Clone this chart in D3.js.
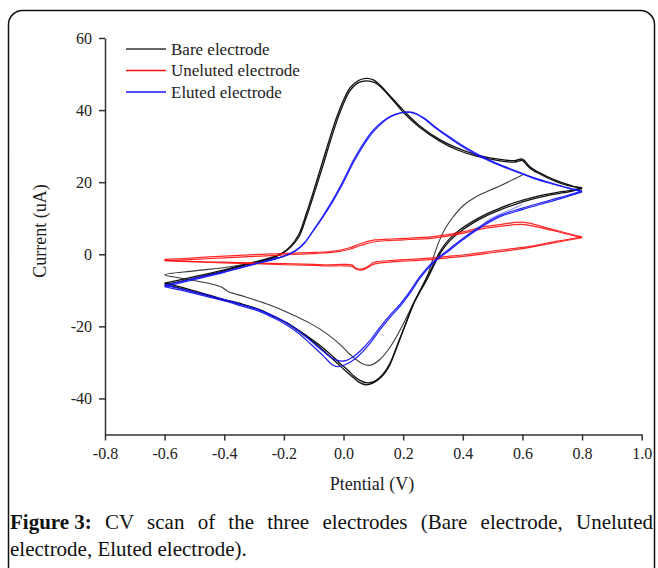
<!DOCTYPE html>
<html>
<head>
<meta charset="utf-8">
<script src="https://d3js.org/d3.v7.min.js"></script>
<style>
  html, body { margin: 0; padding: 0; background: #fff; }
  #wrap { position: relative; width: 658px; height: 568px; overflow: hidden; }
  svg { position: absolute; left: 0; top: 0; }
  .caption {
    position: absolute; left: 10px; top: 509px; width: 643px;
    font-family: "Liberation Serif", serif; font-size: 21px; line-height: 27px;
    color: #111; white-space: nowrap;
  }
  .caption .l1 { text-align: justify; text-align-last: justify; }
  .caption b { display: inline-block; }
  .axis text { font-family: "Liberation Serif", serif; font-size: 16px; fill: #222; }
  .axis path, .axis line { stroke: #333; stroke-width: 1.5px; }
</style>
</head>
<body>
<div id="wrap">
  <svg width="658" height="568"></svg>
  <div class="caption">
    <div class="l1"><b>Figure 3:</b> CV scan of the three electrodes (Bare electrode, Uneluted</div>
    <div>electrode, Eluted electrode).</div>
  </div>
</div>
<script>
// ticks
const xTicks = [-0.8, -0.6, -0.4, -0.2, 0.0, 0.2, 0.4, 0.6, 0.8, 1.0];
const xMinor = [-0.7, -0.5, -0.3, -0.1, 0.1, 0.3, 0.5, 0.7, 0.9];
const yTicks = [-40, -20, 0, 20, 40, 60];
const yMinor = [-30, -10, 10, 30, 50];

const seriesNames = ["Bare electrode", "Uneluted electrode", "Eluted electrode"];

// Bare electrode: first half scan (thin) + two full cycles [E (V), I (uA)]
const bareThin = [[0.6, 22.0], [0.52, 18.8], [0.446, 16.0], [0.40, 13.4], [0.368, 10.4], [0.34, 7.0], [0.32, 3.5], [0.30, -1.2], [0.283, -5.5], [0.258, -9.8], [0.233, -13.8], [0.205, -18.6], [0.178, -22.8], [0.15, -26.5], [0.122, -29.2], [0.09, -30.8], [0.06, -30.2], [0.022, -27.8], [-0.012, -25.0], [-0.06, -21.8], [-0.113, -19.1], [-0.18, -16.4], [-0.247, -14.1], [-0.33, -11.8], [-0.385, -10.4], [-0.41, -9.1], [-0.44, -8.3], [-0.481, -7.6], [-0.54, -6.7], [-0.6, -5.7], [-0.5, -4.6], [-0.392, -3.6], [-0.3, -2.3], [-0.22, -0.8]];

const bareFwd1 = [[-0.6, -8.5], [-0.5, -6.6], [-0.4, -4.6], [-0.3, -2.4], [-0.25, -1.3], [-0.21, 0.0], [-0.18, 2.0], [-0.15, 5.5], [-0.124, 11.5], [-0.095, 19.0], [-0.069, 26.0], [-0.045, 32.5], [-0.023, 38.0], [0.0, 42.8], [0.022, 46.2], [0.05, 48.2], [0.075, 48.8], [0.10, 48.4], [0.122, 47.0], [0.16, 43.6], [0.2, 40.0], [0.256, 35.6], [0.323, 31.8], [0.38, 29.5], [0.446, 27.6], [0.525, 26.3], [0.575, 26.0], [0.6, 26.4], [0.625, 24.3], [0.66, 22.5], [0.70, 20.9], [0.75, 19.4], [0.8, 18.2]];
const bareRev1 = [[0.8, 18.2], [0.76, 17.4], [0.726, 16.9], [0.68, 16.2], [0.636, 15.4], [0.58, 14.0], [0.525, 12.3], [0.48, 10.7], [0.435, 8.7], [0.39, 6.2], [0.357, 3.8], [0.33, 1.0], [0.312, -1.6], [0.283, -6.5], [0.258, -10.2], [0.233, -14.0], [0.205, -20.0], [0.18, -25.5], [0.15, -31.5], [0.125, -34.2], [0.1, -35.7], [0.075, -36.2], [0.05, -35.4], [0.03, -34.0], [0.01, -32.6], [-0.02, -30.3], [-0.057, -27.5], [-0.09, -25.0], [-0.124, -22.9], [-0.191, -19.1], [-0.24, -17.0], [-0.28, -15.5], [-0.34, -14.0], [-0.403, -12.7], [-0.45, -11.6], [-0.504, -10.4], [-0.55, -9.4], [-0.6, -8.5]];
const bareFwd2 = [[-0.6, -8.0], [-0.5, -6.2], [-0.4, -4.3], [-0.3, -2.2], [-0.25, -1.1], [-0.21, 0.1], [-0.18, 1.8], [-0.15, 4.8], [-0.124, 10.5], [-0.095, 17.8], [-0.069, 24.6], [-0.045, 31.2], [-0.023, 36.8], [0.0, 41.8], [0.022, 45.4], [0.05, 47.6], [0.078, 48.1], [0.105, 47.6], [0.13, 46.0], [0.165, 42.8], [0.2, 39.4], [0.256, 35.2], [0.323, 31.4], [0.38, 29.0], [0.446, 27.2], [0.525, 25.9], [0.575, 25.6], [0.6, 26.0], [0.625, 23.9], [0.66, 22.2], [0.70, 20.6], [0.75, 19.1], [0.8, 18.5]];
const bareRev2 = [[0.8, 18.5], [0.76, 17.7], [0.726, 17.3], [0.68, 16.6], [0.636, 15.8], [0.58, 14.5], [0.525, 12.8], [0.48, 11.2], [0.435, 9.2], [0.39, 6.8], [0.357, 4.4], [0.33, 1.6], [0.312, -1.0], [0.29, -4.8], [0.265, -8.8], [0.24, -12.8], [0.212, -18.6], [0.185, -24.2], [0.155, -30.4], [0.13, -33.5], [0.105, -35.2], [0.08, -35.7], [0.055, -35.0], [0.035, -33.8], [0.015, -32.2], [-0.015, -30.0], [-0.05, -27.3], [-0.085, -24.9], [-0.12, -22.8], [-0.19, -19.0], [-0.24, -17.0], [-0.28, -15.4], [-0.34, -13.8], [-0.403, -12.5], [-0.45, -11.3], [-0.504, -10.1], [-0.55, -9.0], [-0.6, -8.0]];

// Uneluted electrode: two cycles
const unelutedFwd1 = [[-0.6, -1.4], [-0.5, -1.0], [-0.4, -0.5], [-0.3, -0.1], [-0.2, 0.2], [-0.1, 0.5], [-0.03, 0.9], [0.02, 1.8], [0.06, 3.0], [0.1, 3.9], [0.15, 4.2], [0.2, 4.4], [0.3, 4.9], [0.4, 6.2], [0.46, 7.5], [0.53, 8.3], [0.6, 8.9], [0.7, 6.9], [0.8, 4.8]];
const unelutedRev1 = [[0.8, 4.8], [0.7, 3.4], [0.625, 2.2], [0.55, 1.4], [0.5, 0.9], [0.45, 0.3], [0.4, -0.2], [0.35, -0.6], [0.3, -1.0], [0.25, -1.3], [0.2, -1.5], [0.15, -1.8], [0.115, -2.0], [0.1, -2.3], [0.085, -3.2], [0.07, -3.9], [0.055, -4.1], [0.04, -3.8], [0.03, -3.0], [0.0, -2.8], [-0.05, -2.9], [-0.1, -2.8], [-0.2, -2.6], [-0.3, -2.4], [-0.4, -2.2], [-0.5, -2.0], [-0.6, -1.6]];
const unelutedFwd2 = [[-0.6, -1.8], [-0.5, -1.4], [-0.4, -1.0], [-0.3, -0.6], [-0.2, -0.2], [-0.1, 0.2], [-0.03, 0.6], [0.02, 1.4], [0.06, 2.5], [0.1, 3.4], [0.15, 3.8], [0.2, 4.0], [0.3, 4.5], [0.4, 5.8], [0.46, 7.0], [0.53, 7.8], [0.6, 8.3], [0.7, 6.6], [0.8, 4.6]];
const unelutedRev2 = [[0.8, 4.6], [0.7, 3.1], [0.625, 1.9], [0.55, 1.0], [0.5, 0.5], [0.45, -0.1], [0.4, -0.6], [0.35, -1.0], [0.3, -1.4], [0.25, -1.7], [0.2, -1.9], [0.15, -2.2], [0.115, -2.5], [0.1, -2.8], [0.085, -3.5], [0.07, -4.2], [0.055, -4.4], [0.04, -4.1], [0.03, -3.4], [0.0, -3.2], [-0.05, -3.2], [-0.1, -3.1], [-0.2, -2.9], [-0.3, -2.6], [-0.4, -2.4], [-0.5, -2.1], [-0.6, -1.8]];

// Eluted electrode: start segment + two cycles
const elutedStart = [[0.6, 13.8], [0.55, 12.0], [0.5, 10.2], [0.47, 8.6]];
const elutedFwd1 = [[-0.6, -9.0], [-0.5, -7.0], [-0.4, -5.0], [-0.3, -2.8], [-0.2, -0.6], [-0.16, 1.0], [-0.13, 3.2], [-0.1, 6.8], [-0.067, 10.9], [-0.033, 15.5], [0.0, 20.6], [0.034, 26.2], [0.067, 30.8], [0.1, 34.5], [0.13, 36.8], [0.156, 38.2], [0.185, 39.1], [0.215, 39.4], [0.24, 39.0], [0.27, 37.6], [0.312, 34.8], [0.36, 32.0], [0.41, 29.3], [0.458, 27.1], [0.52, 24.8], [0.592, 22.5], [0.64, 21.0], [0.692, 19.7], [0.75, 18.4], [0.8, 17.3]];
const elutedRev1 = [[0.8, 17.3], [0.75, 16.0], [0.692, 14.6], [0.6, 12.4], [0.525, 10.4], [0.446, 6.7], [0.4, 4.0], [0.357, 1.2], [0.3, -2.5], [0.256, -6.7], [0.223, -10.8], [0.19, -14.4], [0.156, -17.5], [0.122, -21.0], [0.09, -24.6], [0.055, -27.8], [0.025, -29.8], [0.0, -30.8], [-0.015, -31.2], [-0.035, -30.8], [-0.07, -28.0], [-0.113, -24.7], [-0.15, -22.0], [-0.191, -19.6], [-0.23, -17.8], [-0.28, -15.9], [-0.34, -14.4], [-0.392, -13.1], [-0.45, -11.9], [-0.504, -10.8], [-0.55, -9.9], [-0.6, -9.0]];
const elutedFwd2 = [[-0.6, -8.6], [-0.5, -6.7], [-0.4, -4.8], [-0.3, -2.7], [-0.2, -0.5], [-0.16, 1.1], [-0.13, 3.3], [-0.1, 6.7], [-0.067, 10.6], [-0.033, 15.1], [0.0, 20.0], [0.034, 25.6], [0.067, 30.2], [0.1, 34.0], [0.13, 36.5], [0.16, 38.2], [0.19, 39.2], [0.22, 39.5], [0.245, 39.0], [0.275, 37.5], [0.315, 34.9], [0.36, 32.3], [0.41, 29.6], [0.458, 27.4], [0.52, 25.0], [0.592, 22.7], [0.64, 21.2], [0.692, 19.9], [0.75, 18.5], [0.8, 17.5]];
const elutedRev2 = [[0.8, 17.5], [0.75, 16.3], [0.692, 15.0], [0.6, 12.8], [0.525, 10.8], [0.446, 7.1], [0.4, 4.4], [0.357, 1.6], [0.3, -2.1], [0.256, -6.2], [0.223, -10.2], [0.19, -13.8], [0.156, -16.9], [0.122, -20.3], [0.09, -23.8], [0.055, -26.9], [0.03, -28.6], [0.008, -29.5], [-0.012, -29.6], [-0.035, -29.0], [-0.07, -26.8], [-0.113, -23.8], [-0.15, -21.3], [-0.191, -19.0], [-0.23, -17.3], [-0.28, -15.5], [-0.34, -14.0], [-0.392, -12.7], [-0.45, -11.5], [-0.504, -10.4], [-0.55, -9.5], [-0.6, -8.6]];

const svg = d3.select("svg");

// outer rounded frame (runs off the bottom)
svg.append("rect")
  .attr("x", 8.5).attr("y", 10.5).attr("width", 646).attr("height", 600)
  .attr("rx", 14).attr("fill", "none").attr("stroke", "#111").attr("stroke-width", 1.5);

const x = d3.scaleLinear().domain([-0.8, 1.0]).range([105, 641.7]);
const y = d3.scaleLinear().domain([-50, 60]).range([434.5, 38]);

// axes
const gx = svg.append("g").attr("class", "axis").attr("transform", "translate(0,434.5)");
gx.call(d3.axisBottom(x).tickValues(xMinor).tickSize(3).tickSizeOuter(0).tickFormat(""));
gx.call(d3.axisBottom(x).tickValues(xTicks).tickSize(6).tickSizeOuter(0).tickPadding(7).tickFormat(d => d.toFixed(1)));

const gy = svg.append("g").attr("class", "axis").attr("transform", "translate(105,0)");
gy.call(d3.axisLeft(y).tickValues(yMinor).tickSize(3).tickSizeOuter(0).tickFormat(""));
gy.call(d3.axisLeft(y).tickValues(yTicks).tickSize(6).tickSizeOuter(0).tickPadding(7).tickFormat(d => String(d)));
svg.selectAll(".axis .domain").attr("stroke", "#333").attr("stroke-width", 1.5);

// axis titles
svg.append("text").attr("x", 372).attr("y", 490).attr("text-anchor", "middle")
  .style("font-family", "Liberation Serif, serif").style("font-size", "18px").attr("fill", "#222")
  .text("Ptential (V)");
svg.append("text").attr("transform", "translate(46,231) rotate(-90)").attr("text-anchor", "middle")
  .style("font-family", "Liberation Serif, serif").style("font-size", "18px").attr("fill", "#222")
  .text("Current (uA)");

// curves
const line = d3.line().x(d => x(d[0])).y(d => y(d[1])).curve(d3.curveCatmullRom.alpha(0.5));
const plot = svg.append("g").attr("fill", "none").attr("stroke-linejoin", "round");

function draw(data, color, width, opacity) {
  plot.append("path").attr("d", line(data)).attr("stroke", color)
    .attr("stroke-width", width).attr("stroke-opacity", opacity || 1);
}

draw(bareThin, "#3a3a3a", 1.1);
[bareFwd1, bareRev1, bareFwd2, bareRev2].forEach(s => draw(s, "#111", 1.3));
[unelutedFwd1, unelutedRev1, unelutedFwd2, unelutedRev2].forEach(s => draw(s, "#ff1010", 1.2, 0.9));
draw(elutedStart, "#3a3aff", 1, 0.6);
[elutedFwd1, elutedRev1, elutedFwd2, elutedRev2].forEach(s => draw(s, "#1414ff", 1.2, 0.95));

// legend
const legendColors = ["#333", "#ff1010", "#1414ff"];
const lg = svg.append("g");
seriesNames.forEach((name, i) => {
  const ly = 49 + i * 21.5;
  lg.append("line").attr("x1", 126).attr("x2", 166).attr("y1", ly).attr("y2", ly)
    .attr("stroke", legendColors[i]).attr("stroke-width", 1.5);
  lg.append("text").attr("x", 171).attr("y", ly + 5.5)
    .style("font-family", "Liberation Serif, serif").style("font-size", "17px").attr("fill", "#222")
    .text(name);
});
</script>
</body>
</html>
